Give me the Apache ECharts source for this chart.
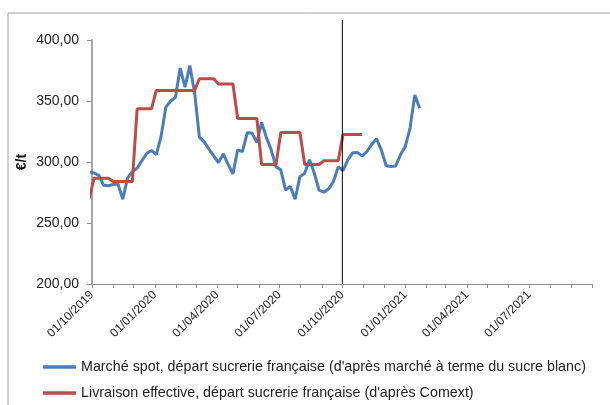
<!DOCTYPE html>
<html lang="fr">
<head>
<meta charset="UTF-8">
<title>Prix du sucre blanc</title>
<script src="https://cdn.jsdelivr.net/npm/echarts@6/dist/echarts.min.js"></script>
</head>
<body style="margin:0;background:#fff">
<div id="main" style="width:610px;height:405px;"></div>
<script>
// relevés hebdomadaires (vendredi), le 1er point tombe juste avant le début de l'axe
const firstWeek = [2019, 8, 27]
const spotName = "Marché spot, départ sucrerie française (d'après marché à terme du sucre blanc)"
const livName = "Livraison effective, départ sucrerie française (d'après Comext)"
const unitName = '€/t'

const spotValues = [
  292, 291, 289, 281, 280.5, 281.5, 282, 269.5, 287, 292,
  295, 301, 307, 309.5, 306, 321, 345, 350, 353, 377,
  361.4, 379, 357, 320.4, 316.5, 310.5, 305, 299.5, 306.7, 298,
  290.3, 310, 308.6, 324, 323.7, 316, 332.4, 320, 310, 296,
  293.6, 277, 280, 269.5, 288, 290.8, 301.8, 290.8, 277, 275.2,
  278, 284, 296, 293, 301.8, 307.5, 307.8, 305, 308.6, 314.5,
  319, 310, 297, 296.3, 296.8, 305.9, 312.7, 327.8, 355, 344
]
const livValues = [
  270, 286.7, 286.7, 286.7, 286.7, 284, 284, 284, 284, 284,
  343.6, 343.6, 343.6, 343.6, 358.7, 358.7, 358.7, 358.7, 358.7, 358.7,
  358.7, 358.7, 358.7, 368.2, 368.2, 368.2, 368.2, 364, 364, 364,
  364, 335.7, 335.7, 335.7, 335.7, 335.7, 298, 298, 298, 298,
  324.2, 324.2, 324.2, 324.2, 324.2, 298, 298, 298, 298, 301,
  301, 301, 301, 322.5, 322.5, 322.5, 322.5, 322.5
]
const cutDate = new Date(2020, 9, 1)

function weekDate(i) {
  return new Date(firstWeek[0], firstWeek[1], firstWeek[2] + 7 * i).getTime()
}
function pad(n) { return n < 10 ? '0' + n : '' + n }

// graduations mensuelles, étiquettes tous les trimestres
const tickMonths = []
const labelMonths = []
for (let i = 0; i <= 24; i++) {
  const t = new Date(2019, 9 + i, 1).getTime()
  tickMonths.push(t)
  if (i % 3 === 0 && i < 24) labelMonths.push(t)
}

const myChart = echarts.init(document.getElementById('main'))
const option = {
  animation: false,
  textStyle: { fontFamily: 'Liberation Sans' },
  grid: { left: 92, right: 18, top: 40, bottom: 121 },
  legend: {
    orient: 'vertical',
    left: 43,
    top: 359,
    padding: 0,
    icon: 'rect',
    itemWidth: 33,
    itemHeight: 3.5,
    itemGap: 10,
    textStyle: { fontSize: 14.3, color: '#222', lineHeight: 16 },
    data: [spotName, livName]
  },
  xAxis: {
    type: 'value',
    min: tickMonths[0],
    max: tickMonths[tickMonths.length - 1],
    axisLine: { lineStyle: { color: '#8c8c8c', width: 1 } },
    axisTick: { show: true, length: 4, customValues: tickMonths, lineStyle: { color: '#8c8c8c' } },
    axisLabel: {
      customValues: labelMonths,
      rotate: 45,
      margin: 9,
      fontSize: 12,
      color: '#222',
      formatter: function (v) {
        const d = new Date(v)
        return pad(d.getDate()) + '/' + pad(d.getMonth() + 1) + '/' + d.getFullYear()
      }
    },
    splitLine: { show: false }
  },
  yAxis: {
    type: 'value',
    min: 200,
    max: 400,
    interval: 50,
    axisLine: { show: true, lineStyle: { color: '#a6a6a6', width: 2 } },
    axisTick: { show: true, length: 5, lineStyle: { color: '#8c8c8c' } },
    axisLabel: {
      margin: 13,
      fontSize: 14,
      color: '#222',
      formatter: function (v) { return v.toFixed(2).replace('.', ',') }
    },
    splitLine: { show: false }
  },
  series: [
    {
      name: spotName,
      type: 'line',
      showSymbol: false,
      symbol: 'none',
      lineStyle: { color: '#4a7ebb', width: 3 },
      itemStyle: { color: '#4a7ebb' },
      data: spotValues.map((v, i) => [weekDate(i), v])
    },
    {
      name: livName,
      type: 'line',
      showSymbol: false,
      symbol: 'none',
      lineStyle: { color: '#be4b48', width: 3 },
      itemStyle: { color: '#be4b48' },
      data: livValues.map((v, i) => [weekDate(i), v])
    }
  ]
}
myChart.setOption(option)

// trait vertical au début de campagne, titre d'axe et cadre gris du graphique
const xCut = myChart.convertToPixel({ xAxisIndex: 0 }, cutDate.getTime())
const yBase = myChart.convertToPixel({ yAxisIndex: 0 }, 200)
const yMid = myChart.convertToPixel({ yAxisIndex: 0 }, 300)
myChart.setOption({
  graphic: [
    {
      type: 'rect',
      shape: { x: 8, y: 13, width: 700, height: 500 },
      style: { fill: 'none', stroke: '#a0a0a0', lineWidth: 1 },
      silent: true
    },
    {
      type: 'line',
      shape: { x1: xCut, y1: 20, x2: xCut, y2: yBase },
      style: { stroke: '#000', lineWidth: 1 },
      z: 10,
      silent: true
    },
    {
      type: 'text',
      x: 22,
      y: yMid,
      rotation: Math.PI / 2,
      style: {
        text: unitName,
        fill: '#111',
        font: 'bold 14px "Liberation Sans"',
        align: 'center',
        verticalAlign: 'middle'
      },
      silent: true
    }
  ]
})
</script>
</body>
</html>
